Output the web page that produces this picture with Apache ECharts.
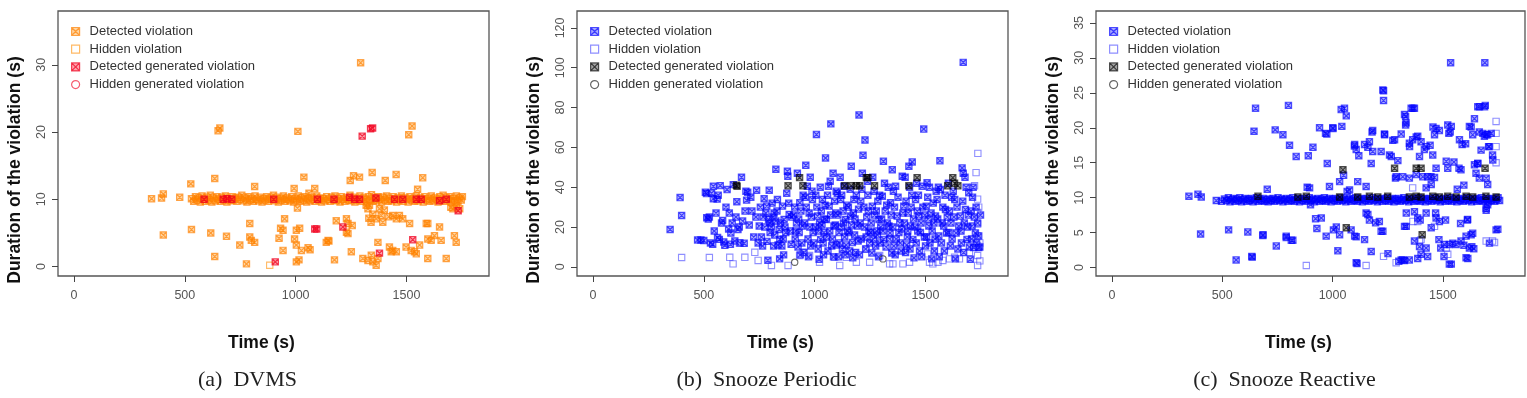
<!DOCTYPE html>
<html>
<head>
<meta charset="utf-8">
<script src="https://cdn.jsdelivr.net/npm/echarts@6/dist/echarts.min.js"></script>
<style>html,body{margin:0;padding:0;background:#fff}#c{width:1527px;height:398px}</style>
</head>
<body>
<div id="c"></div>
<script>
// ---------- labels / ticks ----------
const seriesNames = ['Detected violation', 'Hidden violation', 'Detected generated violation', 'Hidden generated violation'];
const captions = ['(a)  DVMS', '(b)  Snooze Periodic', '(c)  Snooze Reactive'];
const xTitle = 'Time (s)';
const yTitle = 'Duration of the violation (s)';
const xTicks = [0, 500, 1000, 1500];
const yTicksA = [0, 10, 20, 30];
const yTicksB = [0, 20, 40, 60, 80, 100, 120];
const yTicksC = [0, 5, 10, 15, 20, 25, 30, 35];

// ---------- (a) DVMS ----------
const dvmsBand = [[530,10.1],[540,9.7],[548,10.4],[555,9.9],[563,10.2],[570,9.6],[578,10.5],[585,10.0],[593,9.7],[600,10.3],[608,9.9],[615,10.6],[622,9.6],[630,10.2],[638,9.8],[645,10.4],[652,10.0],[660,9.7],[667,10.3],[675,9.9],[683,10.5],[690,9.6],[698,10.1],[706,9.8],[713,10.4],[720,9.9],[728,10.2],[735,9.7],[742,10.3],[750,10.0],[757,10.6],[765,9.8],[772,10.2],[780,9.6],[787,10.4],[795,9.9],[802,10.1],[810,9.7],[817,10.5],[825,10.0],[832,9.8],[840,10.3],[848,9.6],[855,10.1],[862,9.9],[870,10.4],[877,9.7],[885,10.2],[892,10.0],[900,10.6],[907,9.8],[915,10.3],[922,9.6],[930,10.1],[937,9.9],[945,10.5],[952,9.7],[960,10.2],[967,10.0],[975,9.8],[982,10.4],[990,9.6],[997,10.1],[1005,9.9],[1012,10.5],[1020,9.7],[1027,10.2],[1035,9.9],[1042,10.4],[1050,9.6],[1057,10.1],[1065,9.8],[1072,10.3],[1080,10.0],[1087,9.7],[1095,10.5],[1102,9.9],[1110,10.2],[1117,9.6],[1125,10.1],[1132,9.8],[1140,10.4],[1147,10.0],[1155,9.7],[1162,10.3],[1170,9.9],[1177,10.5],[1185,9.8],[1192,10.1],[1200,9.6],[1207,10.4],[1215,10.0],[1222,9.7],[1230,10.2],[1237,9.9],[1245,10.6],[1252,9.8],[1260,10.3],[1267,9.6],[1275,10.1],[1282,9.9],[1290,10.5],[1297,9.7],[1305,10.2],[1312,10.0],[1320,9.6],[1327,10.4],[1335,9.9],[1342,10.7],[1350,9.7],[1357,10.2],[1365,9.8],[1372,10.4],[1380,10.0],[1387,9.6],[1395,10.3],[1402,9.9],[1410,10.5],[1417,9.7],[1425,10.1],[1432,9.8],[1440,10.4],[1447,10.0],[1455,9.6],[1462,10.2],[1470,9.9],[1477,10.5],[1485,9.7],[1492,10.2],[1500,10.0],[1507,9.6],[1515,10.4],[1522,9.9],[1530,10.1],[1537,9.7],[1545,10.5],[1552,9.8],[1560,10.2],[1567,10.0],[1575,9.6],[1582,10.4],[1590,9.9],[1597,10.1],[1605,9.7],[1612,10.5],[1620,9.8],[1627,10.2],[1635,10.0],[1642,9.6],[1650,10.4],[1657,9.9],[1665,10.6],[1672,9.7],[1680,10.2],[1687,9.9],[1695,10.4],[1702,9.6],[1710,10.1],[1717,9.8],[1725,10.5],[1732,9.7],[1740,10.2],[1747,9.9],[1752,10.4]];
const dvmsScatter = [[350,10.1],[395,10.2],[403,10.8],[477,10.3],[403,4.7],[527,12.3],[635,13.1],[815,11.9],[993,11.6],[1037,13.3],[1086,11.6],[1246,12.8],[1261,13.5],[1288,13.3],[1345,14.0],[1404,12.8],[1453,13.7],[1573,13.2],[1550,11.5],[650,20.2],[658,20.6],[1010,20.1],[1525,20.9],[1510,19.6],[1293,30.3],[1008,8.7],[950,7.1],[793,6.4],[530,5.5],[617,5.0],[688,4.5],[748,3.2],[793,4.4],[800,3.9],[815,3.6],[635,1.5],[778,0.4],[932,5.7],[943,5.4],[1003,5.4],[1018,5.7],[995,4.1],[1003,3.2],[1026,2.4],[1056,2.8],[943,2.4],[1003,0.7],[1138,3.6],[1146,3.9],[1183,6.8],[1229,7.1],[1236,6.4],[1229,5.1],[1236,4.9],[1255,6.1],[1251,2.2],[1318,9.1],[1326,8.6],[1333,9.1],[1348,7.8],[1363,7.1],[1378,8.6],[1386,7.6],[1393,6.6],[1438,7.6],[1454,7.1],[1468,7.6],[1483,7.1],[1514,6.4],[1589,6.4],[1596,6.4],[1330,7.2],[1340,6.6],[1400,8.4],[1420,7.4],[1303,1.2],[1326,0.9],[1341,1.7],[1348,0.7],[1363,0.2],[1371,1.2],[1371,3.6],[1423,2.9],[1431,2.2],[1438,2.4],[1454,2.2],[1498,2.9],[1521,2.4],[1536,2.2],[1544,1.9],[1559,3.2],[1596,4.1],[1611,3.9],[1626,4.6],[1649,5.9],[1656,3.9],[1596,1.2],[1679,1.2],[1716,4.6],[1724,3.6],[1709,8.6],[1700,8.8],[1725,9.0],[1740,8.6],[1150,3.8],[1175,1.0],[1065,2.5],[1015,1.0],[1060,10.9],[925,4.2]];
const dvmsHidden = [[883,0.2]];
const dvmsGenDetected = [[587,10.0],[673,10.0],[690,10.1],[712,10.0],[901,10.0],[1098,10.0],[1173,10.0],[1243,10.3],[1266,10.0],[1288,10.0],[1362,10.2],[1446,10.0],[1483,10.0],[1544,10.0],[1566,10.0],[1649,9.8],[1679,10.0],[1733,8.3],[1300,19.4],[1338,20.5],[1347,20.6],[1086,5.6],[1095,5.6],[1213,5.9],[908,0.7],[1378,2.0],[1528,4.0]];
const dvmsGenHidden = [];

// ---------- (b) Snooze Periodic ----------
const periodicDetected = [[348,18.8],[393,34.8],[400,25.8],[507,37.5],[512,36.8],[513,24.7],[520,24],[525,25],[472,13.5],[487,13.5],[500,13.2],[530,12],[540,11.3],[547,18],[543,40.5],[543,34.2],[535,37],[555,27],[562,14.7],[570,13.8],[574,40.8],[585,23.3],[580,22],[590,12.5],[565,36],[595,10.8],[560,34],[600,30],[615,27],[612,19],[622,17],[620,11.3],[633,41.3],[649,32.7],[640,13],[628,22],[605,38.8],[645,25],[654,18.8],[663,12],[670,45],[675,23],[682,11.8],[690,38],[693,33.5],[698,37.5],[660,20],[686,28],[717,28],[738,38.5],[750,20.5],[705,21],[725,15],[745,12],[712,35],[735,25],[765,10.5],[772,34.2],[780,27],[784,30.5],[795,38.5],[792,23.8],[799,17.2],[789,3.3],[760,15],[775,20],[768,25],[785,12.8],[798,22],[755,30],[825,49],[817,27],[825,23],[832,33.8],[840,18.8],[843,13.8],[805,20],[812,25],[820,16],[835,11],[846,22],[808,32],[830,28],[815,10.5],[842,4],[852,10.5],[855,30.5],[862,23.8],[879,45.5],[874,37],[870,17.2],[885,26.3],[877,48],[894,11.3],[858,14],[866,20],[890,18],[883,32],[896,25],[860,6],[930,17.2],[933,32.2],[945,20.5],[922,47],[905,26],[912,14],[918,22],[925,10],[938,28],[942,12],[948,36],[910,30],[928,24],[935,6],[915,18],[952,7.2],[960,51],[967,40.5],[975,27],[982,10.5],[990,33.8],[993,17.2],[955,22],[962,30],[970,14],[978,20],[985,25],[996,12],[958,35],[988,38],[972,5],[980,45],[1008,66.5],[1013,25.5],[1020,3.8],[1027,13.8],[1035,33.8],[1042,17.2],[1049,54.7],[1003,20],[1010,30],[1016,9],[1022,22],[1030,28],[1038,12],[1045,24],[1005,36],[1025,40],[1040,6],[1018,18],[1033,21],[1047,31],[1053,23.8],[1062,40.5],[1065,30.5],[1073,71.8],[1077,10.5],[1083,47],[1087,20.5],[1095,27],[1055,15],[1060,8],[1068,18],[1072,26],[1080,14],[1090,33],[1098,11],[1058,36],[1085,5],[1093,21],[1070,43],[1097,38],[1110,17.2],[1117,33.8],[1125,8.8],[1132,40.5],[1140,23.8],[1105,26],[1112,12],[1120,20],[1128,28],[1135,15],[1145,31],[1102,37],[1138,6],[1148,18],[1115,45],[1108,5],[1142,11],[1122,36],[1130,22],[1155,17.2],[1162,25.5],[1165,50.5],[1170,12.2],[1177,33.8],[1185,7.2],[1192,20.5],[1200,76.3],[1152,30],[1158,8],[1166,21],[1174,27],[1180,16],[1188,36],[1196,13],[1160,39],[1182,24],[1198,29],[1172,4.5],[1218,56],[1227,63.7],[1215,47],[1252,17.2],[1205,22],[1210,14],[1222,30],[1230,9],[1235,25],[1240,36],[1245,18],[1248,12],[1208,33],[1225,20],[1238,43],[1202,6],[1242,28],[1213,39],[1232,15],[1260,30.5],[1275,10.5],[1290,23.8],[1255,22],[1265,14],[1270,26],[1280,18],[1285,33],[1295,12],[1258,7],[1268,38],[1278,28],[1288,5],[1298,20],[1262,45],[1283,16],[1293,36],[1305,35.5],[1310,53],[1312,13.8],[1335,20.5],[1342,32.2],[1350,48.8],[1302,24],[1308,18],[1318,28],[1322,10],[1328,22],[1332,40],[1338,14],[1345,26],[1348,7],[1315,42],[1325,31],[1340,17],[1357,10.5],[1365,40.5],[1372,25.5],[1380,17.2],[1395,45.5],[1402,30.5],[1352,20],[1360,30],[1368,14],[1376,35],[1384,22],[1390,8],[1398,27],[1355,38],[1363,6],[1386,12],[1393,19],[1410,7.2],[1425,50.5],[1440,52.7],[1432,20.5],[1443,13.8],[1405,22],[1412,33],[1418,15],[1422,27],[1428,40],[1435,30],[1446,24],[1408,45],[1415,11],[1438,36],[1448,4.5],[1420,18],[1430,9],[1455,33.8],[1470,25.5],[1477,17.2],[1485,40.5],[1492,69.2],[1500,10.5],[1452,20],[1458,12],[1463,28],[1468,36],[1473,8],[1480,22],[1488,30],[1495,15],[1460,42],[1483,5],[1497,26],[1465,18],[1503,30.5],[1507,42.2],[1515,20.5],[1545,25.5],[1505,15],[1510,35],[1520,12],[1525,27],[1530,18],[1535,32],[1540,8],[1548,38],[1512,24],[1528,4],[1538,22],[1518,40],[1543,14],[1552,33.8],[1565,53.3],[1560,15.5],[1567,38.8],[1582,20.5],[1590,28.8],[1555,24],[1572,12],[1578,30],[1585,8],[1595,17],[1558,40],[1575,22],[1588,36],[1598,25],[1562,5],[1605,17.2],[1612,10.5],[1632,33.8],[1650,20.5],[1608,28],[1615,22],[1620,14],[1625,38],[1628,25],[1638,17],[1642,30],[1646,9],[1618,35],[1635,4],[1603,42],[1657,25.5],[1665,49.7],[1670,47],[1670,102.7],[1672,7.2],[1680,28.8],[1687,13.8],[1695,37.2],[1660,18],[1668,33],[1675,22],[1683,40],[1690,20],[1698,10],[1662,12],[1678,45],[1693,26],[1702,3.8],[1710,20.5],[1717,9.7],[1740,15.5],[1740,9.7],[1705,28],[1712,35],[1720,25],[1725,17],[1730,12],[1735,22],[1745,10],[1715,40],[1728,30],[1708,14],[1748,26]];
const periodicHidden = [[400,4.7],[525,4.7],[617,4.8],[632,1.5],[685,4.8],[660,12],[730,7.3],[745,3.2],[805,0.7],[880,0.7],[932,5.7],[947,7.3],[977,5.7],[1022,2.3],[1090,4.8],[1113,0.7],[1143,4.8],[1188,2.3],[1233,8.8],[1248,2.3],[1293,5.7],[1338,1.5],[1353,1.5],[1398,1.5],[1428,2.3],[1510,6.5],[1518,2.3],[1533,1.5],[1540,10.7],[1556,2.3],[1578,3.2],[1608,4.0],[1631,4.8],[1653,4.0],[1698,7.3],[1721,40.7],[1728,47.3],[1736,57],[1735,34],[1735,27.3],[1735,21.5],[1735,15.7],[1735,10.7],[1735,5.7],[1735,0.7],[1740,30],[1745,12],[1745,3]];
const periodicGenDetected = [[647,41],[650,40.5],[880,40.7],[932,44.8],[947,40.7],[1135,40.7],[1165,40.7],[1188,40.7],[1203,40.7],[1233,44.8],[1240,44.8],[1270,40.7],[1425,40.7],[1462,44.8],[1600,40.7],[1623,44.8],[1631,42],[1646,40.7]];
const periodicGenHidden = [[910,2.3],[1308,4.0]];

// ---------- (c) Snooze Reactive ----------
const reactiveBand = [[497,9.5],[510,9.8],[520,9.6],[528,10.0],[535,9.4],[543,9.7],[550,9.9],[558,9.5],[565,9.8],[573,9.6],[580,10.0],[588,9.4],[595,9.7],[603,9.9],[610,9.5],[618,9.8],[625,9.6],[633,9.9],[640,9.4],[648,9.7],[655,10.0],[663,9.5],[670,9.8],[678,9.6],[685,9.9],[693,9.5],[700,9.7],[708,9.4],[715,9.8],[723,9.6],[730,9.9],[738,9.5],[745,9.7],[753,10.0],[760,9.6],[768,9.8],[775,9.4],[783,9.7],[790,9.9],[798,9.5],[805,9.8],[813,9.6],[820,10.0],[828,9.5],[835,9.7],[843,9.9],[850,9.4],[858,9.8],[865,9.6],[873,9.9],[880,9.5],[888,9.7],[895,10.0],[903,9.6],[910,9.8],[918,9.4],[925,9.7],[933,9.9],[940,9.5],[948,9.8],[955,9.6],[963,10.0],[970,9.5],[978,9.7],[985,9.9],[993,9.4],[1000,9.8],[1008,9.6],[1015,9.9],[1023,9.5],[1030,9.7],[1038,10.0],[1045,9.6],[1053,9.8],[1060,9.4],[1068,9.7],[1075,9.9],[1083,9.5],[1090,9.8],[1098,9.6],[1105,10.0],[1113,9.5],[1120,9.7],[1128,9.9],[1135,9.4],[1143,9.8],[1150,9.6],[1158,9.9],[1165,9.5],[1173,9.7],[1180,10.0],[1188,9.6],[1195,9.8],[1203,9.4],[1210,9.7],[1218,9.9],[1225,9.5],[1233,9.8],[1240,9.6],[1248,10.0],[1255,9.5],[1263,9.7],[1270,9.9],[1278,9.4],[1285,9.8],[1293,9.6],[1300,9.9],[1308,9.5],[1315,9.7],[1323,10.0],[1330,9.6],[1338,9.8],[1345,9.4],[1353,9.7],[1360,9.9],[1368,9.5],[1375,9.8],[1383,9.6],[1390,10.0],[1398,9.5],[1405,9.7],[1413,9.9],[1420,9.4],[1428,9.8],[1435,9.6],[1443,9.9],[1450,9.5],[1458,9.7],[1465,10.0],[1473,9.6],[1480,9.8],[1488,9.4],[1495,9.7],[1503,9.9],[1510,9.5],[1518,9.8],[1525,9.6],[1533,10.0],[1540,9.5],[1548,9.7],[1555,9.9],[1563,9.4],[1570,9.8],[1578,9.6],[1585,9.9],[1593,9.5],[1600,9.7],[1608,10.0],[1615,9.6],[1623,9.8],[1630,9.4],[1638,9.7],[1645,9.9],[1653,9.5],[1660,9.8],[1668,9.6],[1675,10.0],[1683,9.5],[1690,9.7],[1698,9.9],[1705,9.4],[1713,9.8],[1720,9.6],[1728,9.9],[1735,9.5],[1743,9.7],[1750,10.0],[1757,9.6]];
const reactiveScatter = [[349,10.2],[390,10.5],[405,10.1],[473,9.6],[402,4.8],[529,5.4],[563,1.1],[616,5.1],[636,1.5],[644,19.5],[651,22.8],[684,4.6],[704,11.2],[745,3.1],[740,19.7],[775,19.0],[790,4.3],[805,17.5],[800,23.2],[813,3.9],[835,15.9],[890,16.0],[885,11.5],[911,17.2],[923,7.0],[941,20.0],[929,5.6],[968,19.2],[971,4.5],[976,14.9],[1002,19.9],[1004,5.4],[1024,2.4],[1039,22.6],[1054,22.8],[1062,21.7],[1042,20.2],[1032,4.7],[1050,13.2],[1066,10.9],[1084,5.4],[1099,17.4],[1107,4.4],[1114,12.3],[1119,16.0],[1111,0.6],[1145,4.0],[1152,7.8],[1167,6.8],[1175,14.9],[1167,18.0],[1179,19.4],[1212,6.6],[1220,5.2],[1220,16.6],[1231,25.3],[1231,23.9],[1236,19.0],[1251,2.0],[1266,15.9],[1273,18.2],[1288,13.0],[1296,15.3],[1300,0.9],[1311,1.1],[1326,1.0],[1334,7.8],[1331,20.4],[1331,21.6],[1334,5.9],[1349,17.3],[1364,22.8],[1371,22.8],[1379,18.7],[1394,15.9],[1397,6.8],[1386,1.3],[1424,17.3],[1431,13.0],[1446,13.0],[1455,20.1],[1462,19.0],[1467,7.8],[1482,4.0],[1490,2.8],[1505,1.6],[1512,6.8],[1527,19.2],[1538,0.5],[1538,20.2],[1550,15.1],[1565,11.2],[1573,14.2],[1580,6.3],[1595,3.2],[1595,11.8],[1603,17.7],[1613,1.3],[1611,6.8],[1631,3.0],[1635,4.9],[1643,21.3],[1640,2.7],[1628,20.1],[1650,13.5],[1658,14.9],[1666,23.0],[1689,23.0],[1673,16.8],[1681,19.2],[1696,19.0],[1696,8.2],[1707,17.3],[1719,19.2],[1726,15.4],[1711,3.5],[1749,5.5],[1535,29.3],[1690,29.3],[974,19.1],[1001,20.0],[1100,17.6],[1107,16.9],[1145,17.6],[1160,17.2],[1182,16.6],[1228,25.4],[1182,19.6],[1235,19.1],[1258,16.1],[1281,18.3],[1311,19.1],[1326,21.9],[1333,20.7],[1356,22.8],[1348,17.8],[1363,18.3],[1386,18.8],[1401,18.0],[1416,16.9],[1442,17.5],[1469,19.9],[1484,19.6],[1454,16.1],[1469,14.2],[1285,12.8],[1318,13.0],[1348,12.8],[1379,13.3],[1409,13.0],[1462,12.9],[1522,20.4],[1533,19.4],[1515,15.2],[1522,14.2],[1575,18.3],[1587,17.6],[1582,14.0],[1620,20.2],[1658,23.0],[1692,23.2],[1635,19.0],[1665,19.4],[1688,18.8],[1703,19.0],[1710,17.3],[1725,16.1],[1643,14.7],[1658,14.9],[1665,12.8],[1696,12.8],[1703,11.9],[949,7.1],[1017,5.8],[1100,4.5],[1160,7.6],[1195,6.4],[1228,5.2],[1175,2.3],[1107,0.7],[1326,5.9],[1371,8.0],[1386,7.1],[1424,7.8],[1447,5.7],[1469,7.1],[1371,3.8],[1394,3.0],[1424,2.8],[1401,1.9],[1431,1.6],[1318,1.1],[1348,1.1],[1484,6.6],[1507,3.3],[1529,3.3],[1545,3.5],[1560,3.3],[1582,3.8],[1605,4.5],[1612,6.9],[1628,4.7],[1620,2.8],[1605,1.4],[1741,5.4],[1529,0.5],[685,4.7],[790,4.5],[820,3.9],[634,1.6],[896,11.4],[900,9.0],[986,11.6],[1032,12.3],[1077,11.1],[1152,11.6],[1447,11.9],[1424,11.4],[1696,8.5],[1703,9.0]];
const reactiveHidden = [[881,0.3],[1152,0.3],[1231,1.6],[1288,0.7],[1363,11.4],[1364,6.6],[1386,6.6],[1394,3.8],[1401,4.0],[1462,5.9],[1515,2.8],[1522,1.9],[1696,3.8],[1725,3.8],[1734,3.6],[1741,20.9],[1741,19.2],[1741,17.3],[1741,15.0]];
const reactiveGenDetected = [[662,10.2],[843,10.1],[881,10.2],[1032,10.1],[1114,10.1],[1167,10.2],[1205,10.1],[1250,10.2],[1348,10.1],[1379,10.2],[1401,10.1],[1454,10.2],[1484,10.1],[1522,10.2],[1560,10.1],[1605,10.2],[1635,10.1],[1695,10.2],[1741,10.1],[1047,14.0],[1281,14.2],[1379,14.2],[1401,14.2],[1062,5.7],[1406,4.7],[1691,14.2]];
const reactiveGenHidden = [];

// ---------- styling ----------
const BOXX = 'path://M0,0L10,0L10,10L0,10Z M0,0L10,10 M10,0L0,10';
const BOX = 'path://M0,0L10,0L10,10L0,10Z';
const SANS = 'Liberation Sans, Arial, Helvetica, sans-serif';
const SERIF = 'Liberation Serif, Times New Roman, serif';

const palettes = [
  { det: ['rgba(255,140,0,0.45)', 'rgba(255,128,0,0.85)'], hid: 'rgba(255,140,0,0.75)', gdet: ['rgba(255,0,30,0.45)', 'rgba(238,0,30,0.9)'], ghid: 'rgba(240,0,30,0.8)' },
  { det: ['rgba(0,0,255,0.42)', 'rgba(0,0,255,0.82)'], hid: 'rgba(40,40,255,0.65)', gdet: ['rgba(0,0,0,0.45)', 'rgba(0,0,0,0.82)'], ghid: 'rgba(30,30,30,0.85)' },
  { det: ['rgba(0,0,255,0.42)', 'rgba(0,0,255,0.82)'], hid: 'rgba(40,40,255,0.65)', gdet: ['rgba(0,0,0,0.45)', 'rgba(0,0,0,0.82)'], ghid: 'rgba(30,30,30,0.85)' }
];

const panels = [
  { left: 58, width: 431, yMin: -1.4, yMax: 38, yTicks: yTicksA, det: dvmsBand.concat(dvmsScatter), hid: dvmsHidden, gdet: dvmsGenDetected, ghid: dvmsGenHidden },
  { left: 577, width: 431, yMin: -4.6, yMax: 128.5, yTicks: yTicksB, det: periodicDetected, hid: periodicHidden, gdet: periodicGenDetected, ghid: periodicGenHidden },
  { left: 1096, width: 429, yMin: -1.2, yMax: 36.7, yTicks: yTicksC, det: reactiveBand.concat(reactiveScatter), hid: reactiveHidden, gdet: reactiveGenDetected, ghid: reactiveGenHidden }
];
const TOP = 11, HEIGHT = 265;

const grid = [], xAxis = [], yAxis = [], series = [], legend = [], graphic = [];

function styles(p) {
  return [
    { symbol: BOXX, color: p.det[0], borderColor: p.det[1], borderWidth: 1.15 },
    { symbol: BOX, color: 'rgba(255,255,255,0)', borderColor: p.hid, borderWidth: 1.1 },
    { symbol: BOXX, color: p.gdet[0], borderColor: p.gdet[1], borderWidth: 1.15 },
    { symbol: 'circle', color: 'rgba(255,255,255,0)', borderColor: p.ghid, borderWidth: 1.1 }
  ];
}
const plain = v => String(v);

panels.forEach((pn, i) => {
  grid.push({ left: pn.left, top: TOP, width: pn.width, height: HEIGHT, show: true, borderColor: '#555', borderWidth: 1.3, backgroundColor: 'transparent' });
  xAxis.push({
    type: 'value', gridIndex: i, min: -72, max: 1872, position: 'bottom',
    axisLine: { show: false, onZero: false }, splitLine: { show: false },
    axisTick: { show: true, customValues: xTicks, length: 6, lineStyle: { color: '#444', width: 1 } },
    axisLabel: { customValues: xTicks, formatter: plain, margin: 13, color: '#555', fontSize: 12.5, fontFamily: SANS }
  });
  yAxis.push({
    type: 'value', gridIndex: i, min: pn.yMin, max: pn.yMax, position: 'left',
    axisLine: { show: false, onZero: false }, splitLine: { show: false },
    axisTick: { show: true, customValues: pn.yTicks, length: 6, lineStyle: { color: '#444', width: 1 } },
    axisLabel: { customValues: pn.yTicks, formatter: plain, rotate: 90, margin: 10, color: '#555', fontSize: 12.5, fontFamily: SANS }
  });
  const st = styles(palettes[i]);
  const sets = [pn.det, pn.hid, pn.gdet, pn.ghid];
  sets.forEach((d, k) => {
    series.push({
      type: 'scatter', name: seriesNames[k], xAxisIndex: i, yAxisIndex: i,
      data: d, symbol: st[k].symbol, symbolSize: 6.3, z: 2 + k,
      itemStyle: { color: st[k].color, borderColor: st[k].borderColor, borderWidth: st[k].borderWidth },
      emphasis: { disabled: true }, silent: true
    });
  });
  legend.push({
    orient: 'vertical', left: pn.left + 8, top: 20, itemWidth: 18, itemHeight: 8, itemGap: 4.7,
    selectedMode: false, symbolKeepAspect: true,
    textStyle: { fontSize: 13, fontFamily: SANS, color: '#333', lineHeight: 13 },
    data: seriesNames.map((n, k) => ({ name: n, icon: st[k].symbol, itemStyle: { color: st[k].color, borderColor: st[k].borderColor, borderWidth: 1.2 } }))
  });
  const cx = pn.left + pn.width / 2;
  graphic.push({ type: 'text', x: cx - 12, y: 343, style: { text: xTitle, font: 'bold 17.5px ' + SANS, fill: '#111', textAlign: 'center', textVerticalAlign: 'middle' } });
  graphic.push({ type: 'text', x: pn.left - 43, y: 170, rotation: Math.PI / 2, style: { text: yTitle, font: 'bold 17.5px ' + SANS, fill: '#111', textAlign: 'center', textVerticalAlign: 'middle' } });
  graphic.push({ type: 'text', x: cx - 26, y: 380, style: { text: captions[i], font: '22px ' + SERIF, fill: '#222', textAlign: 'center', textVerticalAlign: 'middle' } });
});

const chart = echarts.init(document.getElementById('c'), null, { renderer: 'canvas' });
chart.setOption({ animation: false, backgroundColor: '#fff', grid, xAxis, yAxis, series, legend, graphic });
</script>
</body>
</html>
